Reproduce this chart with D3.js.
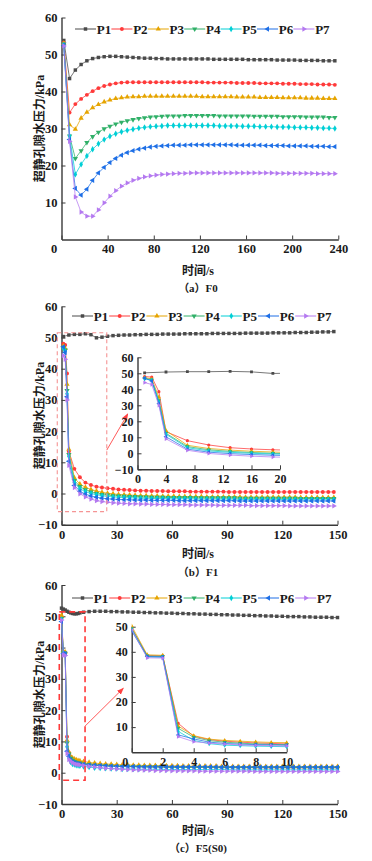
<!DOCTYPE html>
<html>
<head>
<meta charset="utf-8">
<script src="https://cdn.jsdelivr.net/npm/d3@7"></script>
<style>
  body { margin: 0; background: #fff; }
  svg { display: block; }
  text { font-family: "Liberation Serif", "Times New Roman", "Noto Sans CJK SC", serif; fill: #1a1a1a; }
</style>
</head>
<body>
<svg id="fig" width="372" height="861"></svg>
<script>
// ---------- data ----------
const names = ['P1', 'P2', 'P3', 'P4', 'P5', 'P6', 'P7'];

// (a) F0
const timeA = [2, 7, 12, 17, 22, 27, 32, 37, 42, 47, 52, 57, 62, 67, 72, 77, 82, 87, 92, 97,
  102, 107, 112, 117, 122, 127, 132, 137, 142, 147, 152, 157, 162, 167, 172, 177, 182, 187, 192, 197,
  202, 207, 212, 217, 222, 227, 232, 237];
const f0P1 = [53.8, 43.5, 45.8, 47.3, 48.3, 48.9, 49.2, 49.4, 49.5, 49.5, 49.4, 49.3, 49.2, 49.1, 49.0, 49.0, 48.9, 48.9, 48.8, 48.8,
  48.8, 48.8, 48.8, 48.8, 48.8, 48.8, 48.7, 48.7, 48.7, 48.7, 48.7, 48.7, 48.6, 48.6, 48.6, 48.6, 48.6, 48.5, 48.5, 48.5,
  48.5, 48.4, 48.4, 48.4, 48.4, 48.3, 48.3, 48.3];
const f0P2 = [53.2, 34.3, 36.6, 38.0, 39.1, 40.1, 40.9, 41.5, 41.9, 42.2, 42.4, 42.5, 42.5, 42.5, 42.5, 42.5, 42.5, 42.5, 42.5, 42.5,
  42.5, 42.5, 42.5, 42.5, 42.5, 42.4, 42.4, 42.4, 42.4, 42.4, 42.3, 42.3, 42.3, 42.3, 42.2, 42.2, 42.2, 42.2, 42.1, 42.1,
  42.1, 42.0, 42.0, 42.0, 41.9, 41.9, 41.9, 41.8];
const f0P3 = [53.0, 31.0, 29.8, 32.8, 34.4, 35.6, 36.5, 37.2, 37.7, 38.1, 38.3, 38.5, 38.6, 38.6, 38.7, 38.7, 38.7, 38.7, 38.7, 38.7,
  38.7, 38.7, 38.7, 38.7, 38.6, 38.6, 38.6, 38.6, 38.6, 38.6, 38.5, 38.5, 38.5, 38.5, 38.4, 38.4, 38.4, 38.4, 38.3, 38.3,
  38.3, 38.3, 38.2, 38.2, 38.2, 38.1, 38.1, 38.1];
const f0P4 = [52.8, 28.0, 21.9, 24.0, 26.2, 27.8, 29.0, 29.9, 30.6, 31.2, 31.7, 32.1, 32.4, 32.7, 32.9, 33.1, 33.2, 33.3, 33.4, 33.4,
  33.4, 33.5, 33.5, 33.5, 33.5, 33.5, 33.5, 33.4, 33.4, 33.4, 33.4, 33.4, 33.4, 33.3, 33.3, 33.3, 33.3, 33.3, 33.2, 33.2,
  33.2, 33.2, 33.1, 33.1, 33.1, 33.1, 33.0, 33.0];
const f0P5 = [52.6, 28.0, 17.6, 20.3, 22.6, 24.4, 25.9, 27.0, 27.9, 28.6, 29.1, 29.5, 29.8, 30.1, 30.3, 30.5, 30.6, 30.7, 30.8, 30.8,
  30.8, 30.8, 30.8, 30.8, 30.8, 30.8, 30.8, 30.7, 30.7, 30.7, 30.7, 30.6, 30.6, 30.6, 30.5, 30.5, 30.5, 30.4, 30.4, 30.4,
  30.3, 30.3, 30.3, 30.2, 30.2, 30.1, 30.1, 30.0];
const f0P6 = [52.5, 27.0, 13.8, 12.0, 13.6, 16.0, 18.0, 19.5, 20.8, 21.9, 22.8, 23.5, 24.0, 24.4, 24.7, 25.0, 25.2, 25.3, 25.4, 25.5,
  25.5, 25.5, 25.6, 25.6, 25.6, 25.6, 25.6, 25.6, 25.6, 25.6, 25.5, 25.5, 25.5, 25.5, 25.5, 25.4, 25.4, 25.4, 25.4, 25.3,
  25.3, 25.3, 25.3, 25.2, 25.2, 25.2, 25.1, 25.1];
const f0P7 = [52.3, 26.5, 11.5, 7.4, 6.3, 6.3, 8.0, 9.9, 11.7, 13.2, 14.4, 15.3, 16.0, 16.5, 16.9, 17.2, 17.4, 17.6, 17.7, 17.8,
  17.9, 17.9, 18.0, 18.0, 18.0, 18.0, 18.0, 18.0, 18.0, 18.0, 18.0, 18.0, 18.0, 18.0, 18.0, 18.0, 18.0, 17.9, 17.9, 17.9,
  17.9, 17.9, 17.9, 17.9, 17.8, 17.8, 17.8, 17.8];

// (b) F1
const timeB = [1, 2, 3, 4, 7, 10, 13, 16, 19, 22, 25, 28, 31, 34, 37, 40, 43, 46, 49, 52,
  55, 58, 61, 64, 67, 70, 73, 76, 79, 82, 85, 88, 91, 94, 97, 100, 103, 106, 109, 112,
  115, 118, 121, 124, 127, 130, 133, 136, 139, 142, 145, 148];
const f1P1 = [50.3, null, null, 50.8, 51.0, 51.0, 51.2, 50.9, 49.9, 50.1, 50.4, 50.6, 50.7, 50.8, 50.8, 50.9, 50.9, 51.0, 51.0, 51.0,
  51.1, 51.1, 51.1, 51.1, 51.2, 51.2, 51.2, 51.2, 51.2, 51.3, 51.3, 51.3, 51.3, 51.3, 51.3, 51.4, 51.4, 51.4, 51.4, 51.4,
  51.5, 51.5, 51.5, 51.5, 51.6, 51.6, 51.6, 51.7, 51.7, 51.8, 51.8, 51.9];
const f1P2 = [48.0, 47.6, 38.5, 13.5, 7.9, 5.2, 3.5, 2.7, 2.2, 1.9, 1.7, 1.5, 1.3, 1.2, 1.1, 1.0, 0.9, 0.9, 0.8, 0.8,
  0.8, 0.7, 0.7, 0.7, 0.7, 0.6, 0.6, 0.6, 0.6, 0.6, 0.6, 0.6, 0.5, 0.5, 0.5, 0.5, 0.5, 0.5, 0.5, 0.5,
  0.5, 0.5, 0.5, 0.5, 0.5, 0.5, 0.5, 0.5, 0.5, 0.5, 0.5, 0.5];
const f1P3 = [47.3, 46.5, 35.0, 14.2, 5.0, 3.0, 2.0, 1.3, 0.8, 0.4, 0.1, -0.1, -0.3, -0.4, -0.5, -0.6, -0.7, -0.7, -0.8, -0.8,
  -0.9, -0.9, -0.9, -1.0, -1.0, -1.0, -1.0, -1.0, -1.1, -1.1, -1.1, -1.1, -1.1, -1.1, -1.1, -1.2, -1.2, -1.2, -1.2, -1.2,
  -1.2, -1.2, -1.2, -1.2, -1.2, -1.3, -1.3, -1.3, -1.3, -1.3, -1.3, -1.3];
const f1P4 = [46.8, 46.0, 33.0, 12.5, 4.2, 2.2, 1.2, 0.5, 0.0, -0.3, -0.5, -0.7, -0.8, -0.9, -1.0, -1.0, -1.1, -1.1, -1.2, -1.2,
  -1.2, -1.3, -1.3, -1.3, -1.3, -1.3, -1.4, -1.4, -1.4, -1.4, -1.4, -1.4, -1.4, -1.4, -1.5, -1.5, -1.5, -1.5, -1.5, -1.5,
  -1.5, -1.5, -1.5, -1.5, -1.5, -1.6, -1.6, -1.6, -1.6, -1.6, -1.6, -1.6];
const f1P5 = [46.6, 45.6, 32.0, 11.9, 3.5, 1.5, 0.6, 0.0, -0.4, -0.7, -0.9, -1.1, -1.2, -1.3, -1.4, -1.4, -1.5, -1.5, -1.6, -1.6,
  -1.6, -1.7, -1.7, -1.7, -1.7, -1.7, -1.8, -1.8, -1.8, -1.8, -1.8, -1.8, -1.8, -1.8, -1.9, -1.9, -1.9, -1.9, -1.9, -1.9,
  -1.9, -1.9, -1.9, -1.9, -1.9, -2.0, -2.0, -2.0, -2.0, -2.0, -2.0, -2.0];
const f1P6 = [47.0, 45.2, 31.0, 10.3, 2.6, 0.7, -0.2, -0.8, -1.2, -1.5, -1.7, -1.8, -1.9, -2.0, -2.0, -2.1, -2.1, -2.1, -2.2, -2.2,
  -2.2, -2.2, -2.2, -2.3, -2.3, -2.3, -2.3, -2.3, -2.3, -2.3, -2.3, -2.3, -2.3, -2.3, -2.4, -2.4, -2.4, -2.4, -2.4, -2.4,
  -2.4, -2.4, -2.4, -2.4, -2.4, -2.4, -2.4, -2.4, -2.4, -2.4, -2.4, -2.4];
const f1P7 = [44.2, 43.0, 30.0, 9.0, 1.9, -0.1, -1.1, -1.8, -2.3, -2.6, -2.8, -3.0, -3.1, -3.2, -3.3, -3.3, -3.4, -3.4, -3.5, -3.5,
  -3.5, -3.6, -3.6, -3.6, -3.6, -3.7, -3.7, -3.7, -3.7, -3.7, -3.8, -3.8, -3.8, -3.8, -3.8, -3.8, -3.9, -3.9, -3.9, -3.9,
  -3.9, -3.9, -3.9, -4.0, -4.0, -4.0, -4.0, -4.0, -4.0, -4.0, -4.0, -4.0];

// (c) F5(S0)
const timeC = [0, 1, 2, 3, 4, 5, 6, 7, 8, 9, 10, 12, 15, 18, 21, 24, 27, 30, 33, 36,
  39, 42, 45, 48, 51, 54, 57, 60, 63, 66, 69, 72, 75, 78, 81, 84, 87, 90, 93, 96,
  99, 102, 105, 108, 111, 114, 117, 120, 123, 126, 129, 132, 135, 138, 141, 144, 147, 150];
const f5P1 = [52.6, 52.3, 52.0, 51.6, 51.3, 51.1, 50.9, 50.8, 50.8, 50.9, 51.1, 51.3, 51.5, 51.6, 51.6, 51.6, 51.5, 51.5, 51.4, 51.4,
  51.3, 51.3, 51.2, 51.2, 51.1, 51.1, 51.0, 51.0, 50.9, 50.9, 50.8, 50.8, 50.7, 50.7, 50.6, 50.6, 50.5, 50.5, 50.4, 50.4,
  50.3, 50.3, 50.2, 50.2, 50.1, 50.1, 50.0, 50.0, 49.9, 49.9, 49.9, 49.8, 49.8, 49.7, 49.7, 49.7, 49.6, 49.6];
const f5P2 = [49.5, 38.5, 38.4, 11.5, 6.4, 5.0, 4.4, 4.0, 3.7, 3.5, 3.3, 3.1, 2.8, 2.6, 2.5, 2.4, 2.3, 2.2, 2.1, 2.1,
  2.0, 2.0, 2.0, 1.9, 1.9, 1.9, 1.9, 1.8, 1.8, 1.8, 1.8, 1.8, 1.8, 1.7, 1.7, 1.7, 1.7, 1.7, 1.7, 1.7,
  1.7, 1.7, 1.6, 1.6, 1.6, 1.6, 1.6, 1.6, 1.6, 1.6, 1.6, 1.6, 1.6, 1.6, 1.6, 1.6, 1.6, 1.6];
const f5P3 = [50.3, 38.8, 38.6, 10.4, 6.6, 5.2, 4.7, 4.4, 4.1, 3.9, 3.8, 3.6, 3.3, 3.1, 2.9, 2.8, 2.7, 2.6, 2.5, 2.5,
  2.4, 2.4, 2.3, 2.3, 2.3, 2.2, 2.2, 2.2, 2.2, 2.1, 2.1, 2.1, 2.1, 2.1, 2.1, 2.1, 2.0, 2.0, 2.0, 2.0,
  2.0, 2.0, 2.0, 2.0, 2.0, 2.0, 2.0, 2.0, 2.0, 2.0, 2.0, 2.0, 2.0, 2.0, 2.0, 2.0, 2.0, 2.0];
const f5P4 = [49.3, 38.3, 38.2, 9.5, 6.0, 4.6, 4.0, 3.6, 3.3, 3.1, 3.0, 2.8, 2.6, 2.4, 2.3, 2.2, 2.1, 2.0, 2.0, 1.9,
  1.9, 1.9, 1.8, 1.8, 1.8, 1.8, 1.7, 1.7, 1.7, 1.7, 1.7, 1.7, 1.7, 1.7, 1.7, 1.6, 1.6, 1.6, 1.6, 1.6,
  1.6, 1.6, 1.6, 1.6, 1.6, 1.6, 1.6, 1.6, 1.6, 1.6, 1.6, 1.6, 1.6, 1.6, 1.6, 1.6, 1.6, 1.6];
const f5P5 = [49.0, 38.0, 37.8, 8.3, 4.7, 3.4, 2.8, 2.6, 2.4, 2.3, 2.2, 2.0, 1.8, 1.6, 1.5, 1.4, 1.3, 1.3, 1.2, 1.2,
  1.2, 1.1, 1.1, 1.1, 1.1, 1.1, 1.0, 1.0, 1.0, 1.0, 1.0, 1.0, 1.0, 1.0, 1.0, 1.0, 1.0, 1.0, 0.9, 0.9,
  0.9, 0.9, 0.9, 0.9, 0.9, 0.9, 0.9, 0.9, 0.9, 0.9, 0.9, 0.9, 0.9, 0.9, 0.9, 0.9, 0.9, 0.9];
const f5P6 = [48.3, 38.1, 38.0, 6.9, 5.3, 4.0, 3.5, 3.2, 3.0, 2.9, 2.8, 2.7, 2.5, 2.4, 2.3, 2.2, 2.1, 2.1, 2.0, 2.0,
  2.0, 1.9, 1.9, 1.9, 1.9, 1.9, 1.9, 1.9, 1.9, 1.9, 1.9, 1.9, 1.9, 1.9, 1.9, 1.9, 1.8, 1.8, 1.8, 1.8,
  1.8, 1.8, 1.8, 1.8, 1.8, 1.8, 1.8, 1.8, 1.8, 1.8, 1.8, 1.8, 1.8, 1.8, 1.8, 1.8, 1.8, 1.8];
const f5P7 = [48.8, 37.6, 37.5, 6.2, 4.2, 3.6, 3.2, 2.9, 2.7, 2.6, 2.5, 2.3, 2.0, 1.8, 1.6, 1.4, 1.3, 1.2, 1.1, 1.0,
  0.9, 0.9, 0.8, 0.8, 0.7, 0.7, 0.7, 0.6, 0.6, 0.6, 0.6, 0.6, 0.5, 0.5, 0.5, 0.5, 0.5, 0.5, 0.5, 0.5,
  0.5, 0.5, 0.4, 0.4, 0.4, 0.4, 0.4, 0.4, 0.4, 0.4, 0.4, 0.4, 0.4, 0.4, 0.4, 0.4, 0.4, 0.4];

// tick values
const xTicksA = [0, 40, 80, 120, 160, 200, 240];
const yTicksA = [10, 20, 30, 40, 50, 60];
const xTicksBC = [0, 30, 60, 90, 120, 150];
const yTicksBC = [-10, 0, 10, 20, 30, 40, 50, 60];
const xTicksInsetB = [0, 4, 8, 12, 16, 20];
const yTicksInsetB = [-10, 0, 10, 20, 30, 40, 50, 60];
const xTicksInsetC = [0, 2, 4, 6, 8, 10];
const yTicksInsetC = [10, 20, 30, 40, 50];

// ---------- style ----------
const colors = ['#4a4a4a', '#ff3a3a', '#e6a400', '#30b068', '#00cfd6', '#1e6fe6', '#b479f0'];
const symbolTypes = [d3.symbolSquare, d3.symbolCircle, d3.symbolTriangle, d3.symbolTriangle,
  d3.symbolDiamond, d3.symbolTriangle, d3.symbolTriangle];
const symbolRot = [0, 0, 0, 180, 0, -90, 90];
const axisColor = '#3a3a3a';

const svg = d3.select('#fig');
svg.append('rect').attr('width', 372).attr('height', 861).attr('fill', '#fff');

svg.append('defs').append('marker')
  .attr('id', 'arrow').attr('viewBox', '0 0 10 10').attr('refX', 9).attr('refY', 5)
  .attr('markerWidth', 7).attr('markerHeight', 7).attr('orient', 'auto')
  .append('path').attr('d', 'M0,1 L10,5 L0,9 Z').attr('fill', '#ff4040');

function drawSeries(g, x, y, t, vals, i, msize, maxT) {
  const pts = t.map((d, k) => [d, vals[k]]).filter(p => p[1] != null && (maxT == null || p[0] <= maxT));
  g.append('path').datum(pts)
    .attr('fill', 'none').attr('stroke', colors[i]).attr('stroke-width', 1).attr('stroke-opacity', 0.75)
    .attr('d', d3.line().x(p => x(p[0])).y(p => y(p[1])));
  g.append('g').selectAll('path').data(pts).join('path')
    .attr('transform', p => `translate(${x(p[0])},${y(p[1])}) rotate(${symbolRot[i]})`)
    .attr('d', d3.symbol(symbolTypes[i], msize))
    .attr('fill', colors[i]);
}

function drawAxes(g, x, y, xt, yt, fs) {
  const bottom = y.range()[0];
  const left = x.range()[0];
  const xa = g.append('g').attr('transform', `translate(0,${bottom})`)
    .call(d3.axisBottom(x).tickValues(xt).tickSizeInner(-4).tickSizeOuter(0).tickPadding(5));
  const ya = g.append('g').attr('transform', `translate(${left},0)`)
    .call(d3.axisLeft(y).tickValues(yt).tickSizeInner(-4).tickSizeOuter(0).tickPadding(4));
  [xa, ya].forEach(a => {
    a.select('.domain').attr('stroke', axisColor).attr('stroke-width', 1.4);
    a.selectAll('.tick line').attr('stroke', axisColor).attr('stroke-width', 1);
    a.selectAll('.tick text').attr('font-size', fs).attr('font-weight', 'bold')
      .attr('font-family', '"Liberation Serif", serif').attr('fill', '#1a1a1a');
  });
  return { xa, ya };
}

function drawLegend(y0, c0, step) {
  const g = svg.append('g');
  names.forEach((n, i) => {
    const c = c0 + i * step;
    g.append('line').attr('x1', c - 29).attr('x2', c - 8).attr('y1', y0).attr('y2', y0)
      .attr('stroke', colors[i]).attr('stroke-width', 1);
    g.append('path').attr('d', d3.symbol(symbolTypes[i], 12))
      .attr('transform', `translate(${c - 18.5},${y0}) rotate(${symbolRot[i]})`).attr('fill', colors[i]);
    g.append('text').attr('x', c).attr('y', y0 + 4.5).attr('text-anchor', 'middle')
      .attr('font-size', 13).attr('font-weight', 'bold').text(n);
  });
}

function titles(cx, xTitleY, yMid, caption, capY) {
  svg.append('text').attr('x', cx).attr('y', xTitleY + 4.5).attr('text-anchor', 'middle')
    .attr('font-size', 12).attr('font-weight', 'bold').text('时间/s');
  svg.append('text').attr('transform', `translate(44,${yMid}) rotate(-90)`).attr('text-anchor', 'middle')
    .attr('font-size', 12).attr('font-weight', 'bold').text('超静孔隙水压力/kPa');
  svg.append('text').attr('x', cx).attr('y', capY + 4).attr('text-anchor', 'middle')
    .attr('font-size', 11).attr('font-weight', 'bold').text(caption);
}

const allA = [f0P1, f0P2, f0P3, f0P4, f0P5, f0P6, f0P7];
const allB = [f1P1, f1P2, f1P3, f1P4, f1P5, f1P6, f1P7];
const allC = [f5P1, f5P2, f5P3, f5P4, f5P5, f5P6, f5P7];

// ---------- panel (a) ----------
{
  const x = d3.scaleLinear().domain([0, 240]).range([61.5, 338.3]);
  const y = d3.scaleLinear().domain([0, 60]).range([239.5, 17.5]);
  const g = svg.append('g');
  const ax = drawAxes(g, x, y, xTicksA, yTicksA, 12.5);
  ax.xa.selectAll('.tick text').filter(d => d === 0).attr('x', -8);
  allA.forEach((v, i) => drawSeries(g, x, y, timeA, v, i, 12));
  drawLegend(29, 104, 36.4);
  titles(198, 270, 128.5, '（a）F0', 288);
}

// ---------- panel (b) ----------
{
  const x = d3.scaleLinear().domain([0, 150]).range([61.5, 337.5]);
  const y = d3.scaleLinear().domain([-10, 60]).range([524.7, 306.3]);
  const g = svg.append('g');
  drawAxes(g, x, y, xTicksBC, yTicksBC, 12.5);
  allB.forEach((v, i) => drawSeries(g, x, y, timeB, v, i, 12));
  // zoom box and arrow
  g.append('rect').attr('x', x(-2.3)).attr('y', y(51.5)).attr('width', x(24.6) - x(-2.3)).attr('height', y(-5.8) - y(51.5))
    .attr('fill', 'none').attr('stroke', '#f59494').attr('stroke-width', 1.1).attr('stroke-dasharray', '4,3');
  g.append('line').attr('x1', x(24.6)).attr('y1', y(13.9)).attr('x2', x(36)).attr('y2', y(25.5))
    .attr('stroke', '#ff5a5a').attr('stroke-width', 1).attr('marker-end', 'url(#arrow)');
  drawLegend(316, 101, 37.2);
  titles(198, 553, 415.5, '（b）F1', 571.7);

  // inset
  const xi = d3.scaleLinear().domain([0, 20]).range([137.5, 280]);
  const yi = d3.scaleLinear().domain([-10, 60]).range([469.3, 357.3]);
  const gi = svg.append('g');
  svg.select('defs').append('clipPath').attr('id', 'clipB').append('rect')
    .attr('x', xi(0)).attr('y', yi(60) - 5).attr('width', xi(20) - xi(0)).attr('height', yi(-10) - yi(60) + 5);
  drawAxes(gi, xi, yi, xTicksInsetB, yTicksInsetB, 12);
  const gd = gi.append('g').attr('clip-path', 'url(#clipB)');
  allB.forEach((v, i) => drawSeries(gd, xi, yi, timeB, v, i, 8, 22));
}

// ---------- panel (c) ----------
{
  const x = d3.scaleLinear().domain([0, 150]).range([61.5, 337.5]);
  const y = d3.scaleLinear().domain([-10, 60]).range([804, 585]);
  const g = svg.append('g');
  drawAxes(g, x, y, xTicksBC, yTicksBC, 12.5);
  allC.forEach((v, i) => drawSeries(g, x, y, timeC, v, i, 12));
  g.append('rect').attr('x', x(-1.2)).attr('y', y(51.4)).attr('width', x(12.8) - x(-1.2)).attr('height', y(-2.4) - y(51.4))
    .attr('fill', 'none').attr('stroke', '#ff3a3a').attr('stroke-width', 1.6).attr('stroke-dasharray', '6,4');
  g.append('line').attr('x1', x(12.8)).attr('y1', y(14.9)).attr('x2', x(33.6)).attr('y2', y(27))
    .attr('stroke', '#ff5a5a').attr('stroke-width', 1).attr('marker-end', 'url(#arrow)');
  drawLegend(598, 101, 37.2);
  titles(198, 830, 694.5, '（c）F5(S0)', 848.3);

  // inset
  const xi = d3.scaleLinear().domain([0, 10]).range([131.7, 286.7]);
  const yi = d3.scaleLinear().domain([0, 50]).range([752.2, 626.7]);
  const gi = svg.append('g');
  svg.select('defs').append('clipPath').attr('id', 'clipC').append('rect')
    .attr('x', xi(0)).attr('y', yi(50) - 4).attr('width', xi(10) - xi(0) + 3).attr('height', yi(0) - yi(50) + 4);
  const ax = drawAxes(gi, xi, yi, xTicksInsetC, yTicksInsetC, 12);
  ax.xa.selectAll('.tick text').filter(d => d === 0).attr('x', -7);
  const gd = gi.append('g').attr('clip-path', 'url(#clipC)');
  allC.slice(1).forEach((v, i) => drawSeries(gd, xi, yi, timeC, v, i + 1, 8, 10));
}
</script>
</body>
</html>
